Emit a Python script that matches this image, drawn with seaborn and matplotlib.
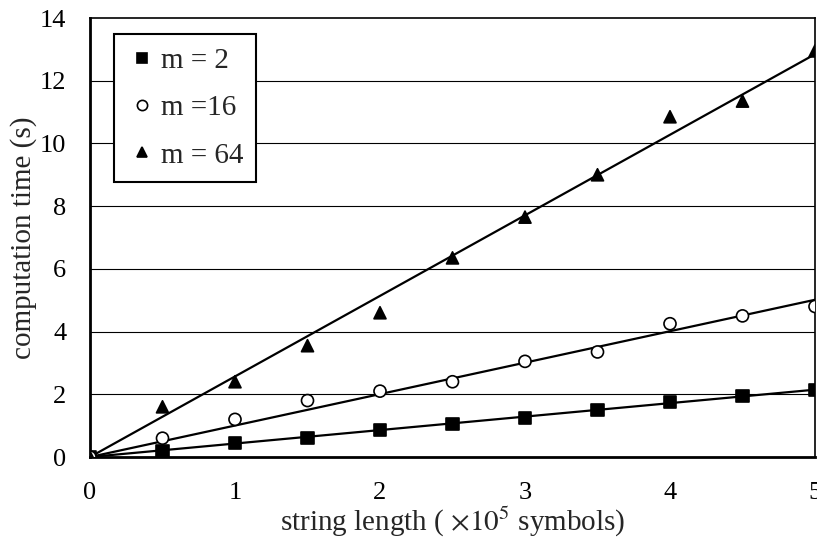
import numpy as np
import pandas as pd
import matplotlib
matplotlib.use('Agg')
import matplotlib.pyplot as plt
import seaborn as sns

sns.set_style('white')
plt.rcParams['font.family'] = ['Liberation Serif', 'DejaVu Serif']
plt.rcParams['mathtext.fontset'] = 'stix'

# string length (x 10^5 symbols)
length = [0, 0.5, 1, 1.5, 2, 2.5, 3, 3.5, 4, 4.5, 5]
# computation time (s)
t_m2  = [0, 0.20, 0.45, 0.62, 0.85, 1.05, 1.25, 1.50, 1.75, 1.95, 2.15]
t_m16 = [0, 0.60, 1.20, 1.80, 2.10, 2.40, 3.05, 3.35, 4.25, 4.50, 4.80]
t_m64 = [0, 1.60, 2.40, 3.55, 4.60, 6.35, 7.65, 9.00, 10.85, 11.35, 12.95]

labels = ['m = 2', 'm =16', 'm = 64']
series = [t_m2, t_m16, t_m64]

df = pd.DataFrame({
    'x': length * 3,
    'y': t_m2 + t_m16 + t_m64,
    'm': [l for l in labels for _ in length],
})

fig = plt.figure(figsize=(8.17, 5.42), dpi=100)
ax = fig.add_axes([90/817, 1-457/542, (815-90)/817, (457-18)/542])

# linear trend lines through the origin (least squares)
xs = np.array(length)
for ys in series:
    k = np.dot(xs, ys) / np.dot(xs, xs)
    ax.plot([0, 5], [0, 5*k], color='black', lw=1.6, zorder=2)

sns.scatterplot(data=df, x='x', y='y', hue='m', style='m', ax=ax,
                markers={'m = 2': 's', 'm =16': 'o', 'm = 64': '^'},
                palette={'m = 2': 'black', 'm =16': 'white', 'm = 64': 'black'},
                edgecolor='black', linewidth=1.2, s=75, zorder=3)

ax.set_xlim(0, 5); ax.set_ylim(0, 14)
ax.set_xticks(range(0, 6)); ax.set_yticks(range(0, 15, 2))
for y in range(2, 14, 2):
    ax.axhline(y, color='black', lw=0.8, zorder=1)
ax.tick_params(axis='both', direction='in', length=7, width=1, labelsize=19, colors='black')
ax.tick_params(axis='x', pad=18)
ax.tick_params(axis='y', pad=17)
for s in ax.spines.values():
    s.set_color('black'); s.set_linewidth(1.2); s.set_visible(True)
ax.spines['left'].set_linewidth(2); ax.spines['bottom'].set_linewidth(2)

ax.set_xlabel(r'string length ( $\times 10^5$ symbols)', fontsize=21, labelpad=1)
ax.set_ylabel('computation time (s)', fontsize=21, labelpad=2)

h, l = ax.get_legend_handles_labels()
leg = ax.legend(h, l, loc='upper left', bbox_to_anchor=(0.033, 0.963), fontsize=21,
                frameon=True, fancybox=False, framealpha=1, edgecolor='black',
                handletextpad=0.15, labelspacing=0.72, borderpad=0.45, markerscale=0.85,
                handlelength=1.0, borderaxespad=0)
leg.get_frame().set_linewidth(1.5)

fig.savefig('out.png', dpi=100)
